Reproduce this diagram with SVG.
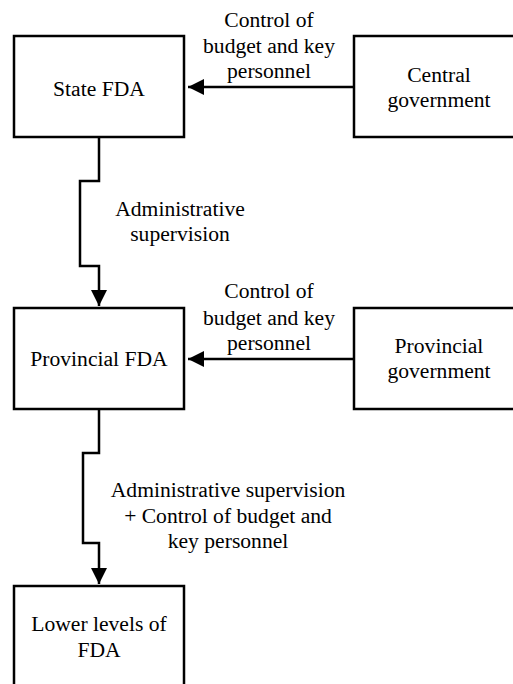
<svg xmlns="http://www.w3.org/2000/svg" width="513" height="684" viewBox="0 0 513 684">
  <style>
    .box { fill: #ffffff; stroke: #000000; stroke-width: 2.5; }
    .wire { fill: none; stroke: #000000; stroke-width: 2.5; }
    .t { font-size: 21.6px; fill: #000000; text-anchor: middle; }
  </style>
  <defs>
    <marker id="arrow" markerUnits="userSpaceOnUse" markerWidth="18" markerHeight="18" refX="16" refY="8" orient="auto">
      <path d="M0,0 L16,8 L0,16 Z" fill="#000000"/>
    </marker>
  </defs>
  <rect width="513" height="684" fill="#ffffff"/>

  <g id="connectors">
    <!-- Central government -> State FDA -->
    <path class="wire" d="M354,87 L188,87" marker-end="url(#arrow)"/>
    <!-- State FDA -> Provincial FDA (stepped) -->
    <path class="wire" d="M99,137 L99,181 L80,181 L80,266 L99,266 L99,306" marker-end="url(#arrow)"/>
    <!-- Provincial government -> Provincial FDA -->
    <path class="wire" d="M354,359 L188,359" marker-end="url(#arrow)"/>
    <!-- Provincial FDA -> Lower levels (stepped) -->
    <path class="wire" d="M99,409 L99,453 L83,453 L83,543 L99,543 L99,584" marker-end="url(#arrow)"/>
  </g>

  <g id="labels" font-family="Liberation Serif, Times New Roman, serif">
    <text class="t" x="269" y="27">Control of</text>
    <text class="t" x="269" y="53">budget and key</text>
    <text class="t" x="269" y="78">personnel</text>

    <text class="t" x="180" y="216">Administrative</text>
    <text class="t" x="180" y="241">supervision</text>

    <text class="t" x="269" y="298">Control of</text>
    <text class="t" x="269" y="325">budget and key</text>
    <text class="t" x="269" y="350">personnel</text>

    <text class="t" x="228" y="497">Administrative supervision</text>
    <text class="t" x="228" y="523">+ Control of budget and</text>
    <text class="t" x="228" y="548">key personnel</text>
  </g>

  <g id="state-fda" font-family="Liberation Serif, Times New Roman, serif">
    <rect class="box" x="14" y="36" width="170" height="101"/>
    <text class="t" x="99" y="96">State FDA</text>
  </g>

  <g id="central-government" font-family="Liberation Serif, Times New Roman, serif">
    <rect class="box" x="354" y="36" width="170" height="101"/>
    <text class="t" x="439" y="82">Central</text>
    <text class="t" x="439" y="107">government</text>
  </g>

  <g id="provincial-fda" font-family="Liberation Serif, Times New Roman, serif">
    <rect class="box" x="14" y="308" width="170" height="101"/>
    <text class="t" x="99" y="366">Provincial FDA</text>
  </g>

  <g id="provincial-government" font-family="Liberation Serif, Times New Roman, serif">
    <rect class="box" x="354" y="308" width="170" height="101"/>
    <text class="t" x="439" y="353">Provincial</text>
    <text class="t" x="439" y="378">government</text>
  </g>

  <g id="lower-levels-fda" font-family="Liberation Serif, Times New Roman, serif">
    <rect class="box" x="14" y="586" width="170" height="101"/>
    <text class="t" x="99" y="631">Lower levels of</text>
    <text class="t" x="99" y="657">FDA</text>
  </g>
</svg>
